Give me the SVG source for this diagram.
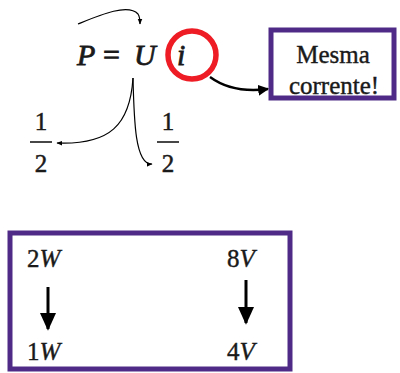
<svg xmlns="http://www.w3.org/2000/svg" width="400" height="373" viewBox="0 0 400 373">
<defs>
<marker id="ah" viewBox="0 0 10 10" refX="9" refY="5" markerWidth="6" markerHeight="6" markerUnits="userSpaceOnUse" orient="auto"><path d="M0,1 L10,5 L0,9 z" fill="#000"/></marker>
<marker id="ahb" viewBox="0 0 10 10" refX="9" refY="5" markerWidth="11" markerHeight="11" markerUnits="userSpaceOnUse" orient="auto"><path d="M0,0 L10,5 L0,10 z" fill="#000"/></marker>
<marker id="ahd" viewBox="0 0 10 10" refX="9" refY="5" markerWidth="18" markerHeight="18" markerUnits="userSpaceOnUse" orient="auto"><path d="M0,0.5 L10,5 L0,9.5 z" fill="#000"/></marker>
</defs>
<style>
text{font-family:"Liberation Serif","Times New Roman",serif;fill:#1a1a1a;stroke:#1a1a1a;stroke-width:0.4}
.m{font-size:30px;stroke-width:0.8}
.it{font-style:italic}
.f{font-size:25px;text-anchor:middle;stroke-width:0.5}
.b{font-size:25px}
.box{fill:#fff;stroke:#4f2a87}
.c{fill:none;stroke:#000;stroke-width:1.2}
</style>
<g id="formula">
<text class="m it" x="77" y="65">P</text>
<text class="m" x="103" y="65">=</text>
<text class="m it" x="134" y="65">U</text>
<text class="m it" x="177" y="65">i</text>
</g>
<g id="circle"><circle cx="192" cy="55" r="24" fill="none" stroke="#ee1c24" stroke-width="5.5"/></g>
<g id="frac-left">
<text class="f" x="41" y="130">1</text>
<line x1="30" y1="142" x2="52" y2="142" stroke="#1a1a1a" stroke-width="1.6"/>
<text class="f" x="41" y="172">2</text>
</g>
<g id="frac-right">
<text class="f" x="168" y="130">1</text>
<line x1="157" y1="142" x2="179" y2="142" stroke="#1a1a1a" stroke-width="1.6"/>
<text class="f" x="168" y="172">2</text>
</g>
<g id="note">
<rect class="box" x="271" y="30" width="123" height="68" stroke-width="5"/>
<text class="b" x="333" y="63" text-anchor="middle">Mesma</text>
<text class="b" x="334" y="94" text-anchor="middle">corrente!</text>
</g>
<g id="summary">
<rect class="box" x="10" y="233" width="280" height="136" stroke-width="5"/>
<text class="b" x="27" y="267">2<tspan class="it">W</tspan></text>
<text class="b" x="27" y="360">1<tspan class="it">W</tspan></text>
<text class="b" x="227" y="267">8<tspan class="it">V</tspan></text>
<text class="b" x="227" y="360">4<tspan class="it">V</tspan></text>
</g>
<g id="connectors">
<path class="c" d="M78,24 C100,15 128,3 138,14 C140,17 140,20 140,24" marker-end="url(#ah)"/>
<path class="c" d="M133,78 C130,125 110,145 57,143" marker-end="url(#ah)"/>
<path class="c" d="M133,78 C134,120 135,165 152,164" marker-end="url(#ah)"/>
<path fill="none" stroke="#000" stroke-width="2.4" d="M210,77 C225,88 245,92 268,89" marker-end="url(#ahb)"/>
<line x1="48" y1="287" x2="48" y2="329" stroke="#000" stroke-width="3" marker-end="url(#ahd)"/>
<line x1="246" y1="280" x2="246" y2="323" stroke="#000" stroke-width="3" marker-end="url(#ahd)"/>
</g>
</svg>
